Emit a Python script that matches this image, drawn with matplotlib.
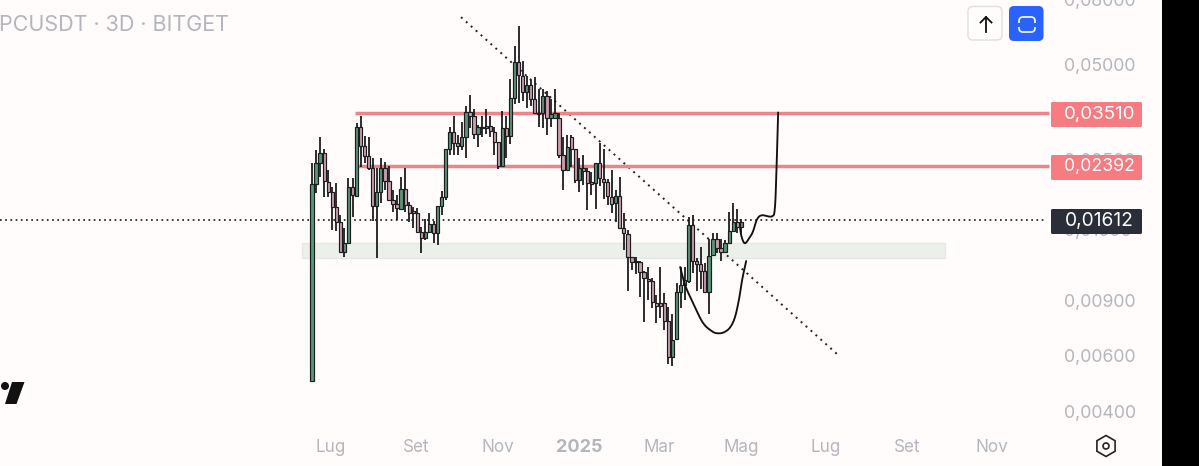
import numpy as np
import matplotlib
matplotlib.use("Agg")
import matplotlib.pyplot as plt
from matplotlib.patches import FancyBboxPatch, Rectangle, Polygon, Circle, RegularPolygon

plt.rcParams['font.family'] = ['Inter', 'DejaVu Sans']

# Prices in units of 0.00001
opens = [498,2090,2451,2636,2120,1972,1769,1587,1276,1362,2045,1916,3163,2754,2561,2347,1782,1972,2347,2136,
         1861,1808,1743,2015,1795,1718,1694,1475,1413,1475,1564,1465,1782,1902,2714,3050,2815,2774,2941,3552,
         3451,3027,3140,3140,3186,3050,2856,2381,3140,2962,3933,5110,4615,4108,4323,3905,3527,3527,3991,3401,
         3401,3401,2580,2313,2941,2714,2151,2347,2296,2120,2105,2451,2167,2120,1902,1821,1916,1519,1454,1231,
         1196,1187,1104,1050,1034,881,881,881,775,597,676,955,1005,1034,1552,1196,1170,1112,955,1249,
         1402,1314,1276,1362,1486,1587,1530]
closes = [2090,2451,2636,2136,1972,1769,1587,1276,1362,2045,1930,3163,2754,2561,2347,1782,1972,2347,2136,1861,
          1808,1756,2015,1795,1694,1694,1475,1413,1475,1564,1465,1782,1902,2714,3050,2815,2774,2941,3552,3451,
          3027,3163,3163,3186,3072,2856,2381,3140,2962,3933,5110,4649,4108,4323,3905,3527,3501,3991,3401,3501,
          3527,2580,2313,2734,2714,2151,2347,2296,2105,2090,2451,2183,2120,1916,1808,1916,1519,1465,1231,1187,
          1187,1104,1057,1034,888,862,862,775,593,671,955,1005,1042,1552,1196,1170,1112,955,1240,1402,
          1314,1276,1362,1486,1587,1530,1587]
highs = [2451,2675,2941,2714,2313,2045,2105,1669,1519,2183,2183,3279,3451,2962,2941,2542,2347,2542,2469,2381,
         2001,1930,2199,2347,1834,1769,1756,1530,1621,1694,1598,1782,1986,2714,3163,3451,2984,3303,3711,4020,
         3631,3209,3451,3631,3451,3163,2856,3578,3451,4516,5741,6641,5148,4615,4483,4582,4198,4198,4138,3905,
         4198,3527,2941,2984,2984,2714,2542,2580,2347,2280,2451,2815,2714,2167,2313,2001,2199,1694,1497,1231,
         1231,1196,1112,1145,1057,934,1145,948,856,815,1019,1145,1145,1645,1669,1222,1323,1178,1402,1465,
         1465,1402,1392,1706,1821,1743,1621]
lows = [498,1958,2199,1902,1902,1497,1486,1276,1231,1362,1645,1916,2364,2451,2313,1598,1222,1821,2001,1861,
        1706,1610,1743,1706,1587,1519,1475,1267,1392,1465,1362,1343,1669,1861,2580,2580,2580,2675,2524,3140,
        2898,2734,2941,3027,2941,2580,2330,2381,2542,2795,3765,3793,3848,3657,3711,3501,3163,3140,2984,3163,
        3376,2542,2001,2313,2364,2105,1972,2075,1731,1930,1743,2060,1874,1795,1694,1587,1519,1295,962,1120,
        1088,921,769,901,850,764,792,722,567,559,671,850,901,1019,1096,962,979,948,815,1249,
        1267,1196,1267,1362,1475,1465,1465]

level_high = 0.03510
level_low = 0.02392
last_price = 0.01612
zone_top, zone_bottom = 0.01363, 0.01223

trend_x = [36.8, 129.9]
trend_y = [0.0706, 0.00604]

cup_x = [90.9, 92.1, 94.1, 96.5, 98.8, 100.2, 101.7, 103.2, 104.4, 105.4, 106.2, 107.2]
cup_y = [1145, 1005, 881, 764, 717, 707, 712, 737, 792, 901, 1042, 1196]
rise_x = [105.7, 106.1, 106.9, 108.1, 108.9, 109.9, 111.1, 113.6, 114.3, 114.7, 115.1]
rise_y = [1519, 1423, 1362, 1423, 1486, 1621, 1669, 1657, 1769, 2364, 3527]

price_ticks = [0.08, 0.05, 0.025, 0.015, 0.009, 0.006, 0.004]
price_labels = ['0,08000', '0,05000', '0,02500', '0,01500', '0,00900', '0,00600', '0,00400']
time_ticks = [4.7, 25.7, 45.9, 65.9, 85.7, 105.9, 126.9, 146.9, 167.9]
time_labels = ['Lug', 'Set', 'Nov', '2025', 'Mar', 'Mag', 'Lug', 'Set', 'Nov']

BG = '#fffcfb'
GREEN, PINK, INK = '#5b957a', '#c99fae', '#1c1c1f'
RED, GREY, DARK = '#f2828a', '#b4b6bd', '#2a2e39'

W, H = 1199, 466
fig = plt.figure(figsize=(W / 100, H / 100), dpi=100, facecolor=BG)
ax = fig.add_axes([0, 0, 1050 / W, 1], facecolor=BG)
ax.set_yscale('log')
ax.set_xlim(-312 / 4.05, (1050 - 312) / 4.05)
k = 137.4
ax.set_ylim(0.05 * np.exp((64.5 - H) / k), 0.05 * np.exp(64.5 / k))

o, c, h, l = [np.array(a) / 1e5 for a in (opens, closes, highs, lows)]
xs = np.arange(len(o))
up = c >= o

ax.add_patch(Rectangle((-2.47, zone_bottom), 158.8, zone_top - zone_bottom, fc='#ebf0ea', ec='#e6e8e6', lw=1, zorder=1))
ax.hlines(last_price, ax.get_xlim()[0], 181, colors='#222222', linestyles=(0, (1, 2.0)), lw=1.25, zorder=2)
ax.plot(trend_x, trend_y, color='#222222', ls=(0, (1, 2.4)), lw=1.4, zorder=2)
ax.hlines(level_high, 10.6, 182, colors=RED, lw=2.5, zorder=2)
ax.hlines(level_low, 11.4, 182, colors=RED, lw=2.5, zorder=2)

ax.vlines(xs, l, h, colors=INK, lw=1.3, zorder=3)
ax.bar(xs, np.abs(c - o), bottom=np.minimum(o, c), width=0.8,
       color=[GREEN if u else PINK for u in up], edgecolor=INK, linewidth=0.85, zorder=4)


def smooth(x, y):
    x = np.array(x, float)
    y = np.log(np.array(y, float) / 1e5)
    px, py = [x[0]] + list(x) + [x[-1]], [y[0]] + list(y) + [y[-1]]
    out_x, out_y = [], []
    for i in range(1, len(px) - 2):
        for t in np.linspace(0, 1, 12):
            b = [(-t**3 + 2*t**2 - t) / 2, (3*t**3 - 5*t**2 + 2) / 2, (-3*t**3 + 4*t**2 + t) / 2, (t**3 - t**2) / 2]
            out_x.append(sum(b[j] * px[i - 1 + j] for j in range(4)))
            out_y.append(sum(b[j] * py[i - 1 + j] for j in range(4)))
    return np.array(out_x), np.exp(out_y)


for cx, cy in ((cup_x, cup_y), (rise_x, rise_y)):
    ax.plot(*smooth(cx, cy), color='#111111', lw=1.35, zorder=6, solid_capstyle='round')

ax.minorticks_off()
ax.yaxis.tick_right()
ax.set_yticks(price_ticks)
ax.set_yticklabels(price_labels)
ax.tick_params(axis='y', which='both', length=0, pad=10, labelsize=12.8, labelcolor=GREY)
ax.set_xticks(time_ticks)
ax.set_xticklabels(time_labels)
ax.tick_params(axis='x', length=0, pad=-19.5, labelsize=12.3, labelcolor=GREY)
for lab in ax.get_xticklabels():
    if lab.get_text() == '2025':
        lab.set_fontweight('bold')
        lab.set_fontsize(13)
for s in ax.spines.values():
    s.set_visible(False)

# Interface furniture, in screen pixels
ui = fig.add_axes([0, 0, 1, 1], facecolor='none')
ui.set_xlim(0, W)
ui.set_ylim(H, 0)
ui.axis('off')


def box(x0, y0, x1, y1, r, **kw):
    ui.add_patch(FancyBboxPatch((x0 + r, y0 + r), x1 - x0 - 2 * r, y1 - y0 - 2 * r,
                                boxstyle=f'round,pad={r},rounding_size={r}', **kw))


ui.text(-1, 25, 'PCUSDT · 3D · BITGET', fontsize=15.5, color=GREY, va='center', ha='left')
for y0, y1, col, txt, size in ((102, 127, '#f67c82', '0,03510', 13.5), (155, 180, '#f67c82', '0,02392', 12.8),
                               (209, 234, DARK, '0,01612', 13.8)):
    box(1051, y0, 1142, y1, 1.5, fc=col, ec='none')
    ui.text(1099.5, (y0 + y1) / 2 - 0.5, txt, color='white', fontsize=size, ha='center', va='center')

box(968, 6.5, 1002, 40, 5, fc='#fffdfc', ec='#dfdfdf', lw=1)
ui.plot([986, 986], [32, 17], color='#111111', lw=1.3)
ui.plot([980.5, 986, 991.5], [22.5, 17, 22.5], color='#111111', lw=1.3)
box(1009, 6, 1043.5, 41, 5, fc='#2962ff', ec='none')
box(1019, 17, 1035, 32, 4, fc='none', ec='white', lw=1.2)
ui.add_patch(Rectangle((1016, 22.5), 22, 4.5, fc='#2962ff', ec='none', zorder=5))

ui.add_patch(Circle((5, 386), 4, fc='#111111', ec='none'))
ui.add_patch(Polygon([(12, 382), (24.5, 382), (16.5, 404), (5, 404)], closed=True, fc='#111111', ec='none'))

ui.add_patch(RegularPolygon((1106, 446), 6, radius=10.5, fc='none', ec='#222222', lw=1.2))
ui.add_patch(Circle((1106, 446), 3, fc='none', ec='#222222', lw=1.2))

ui.add_patch(Rectangle((1162, 0), W - 1162, H, fc='black', ec='none'))

fig.savefig('out.png', dpi=100, facecolor=BG)
